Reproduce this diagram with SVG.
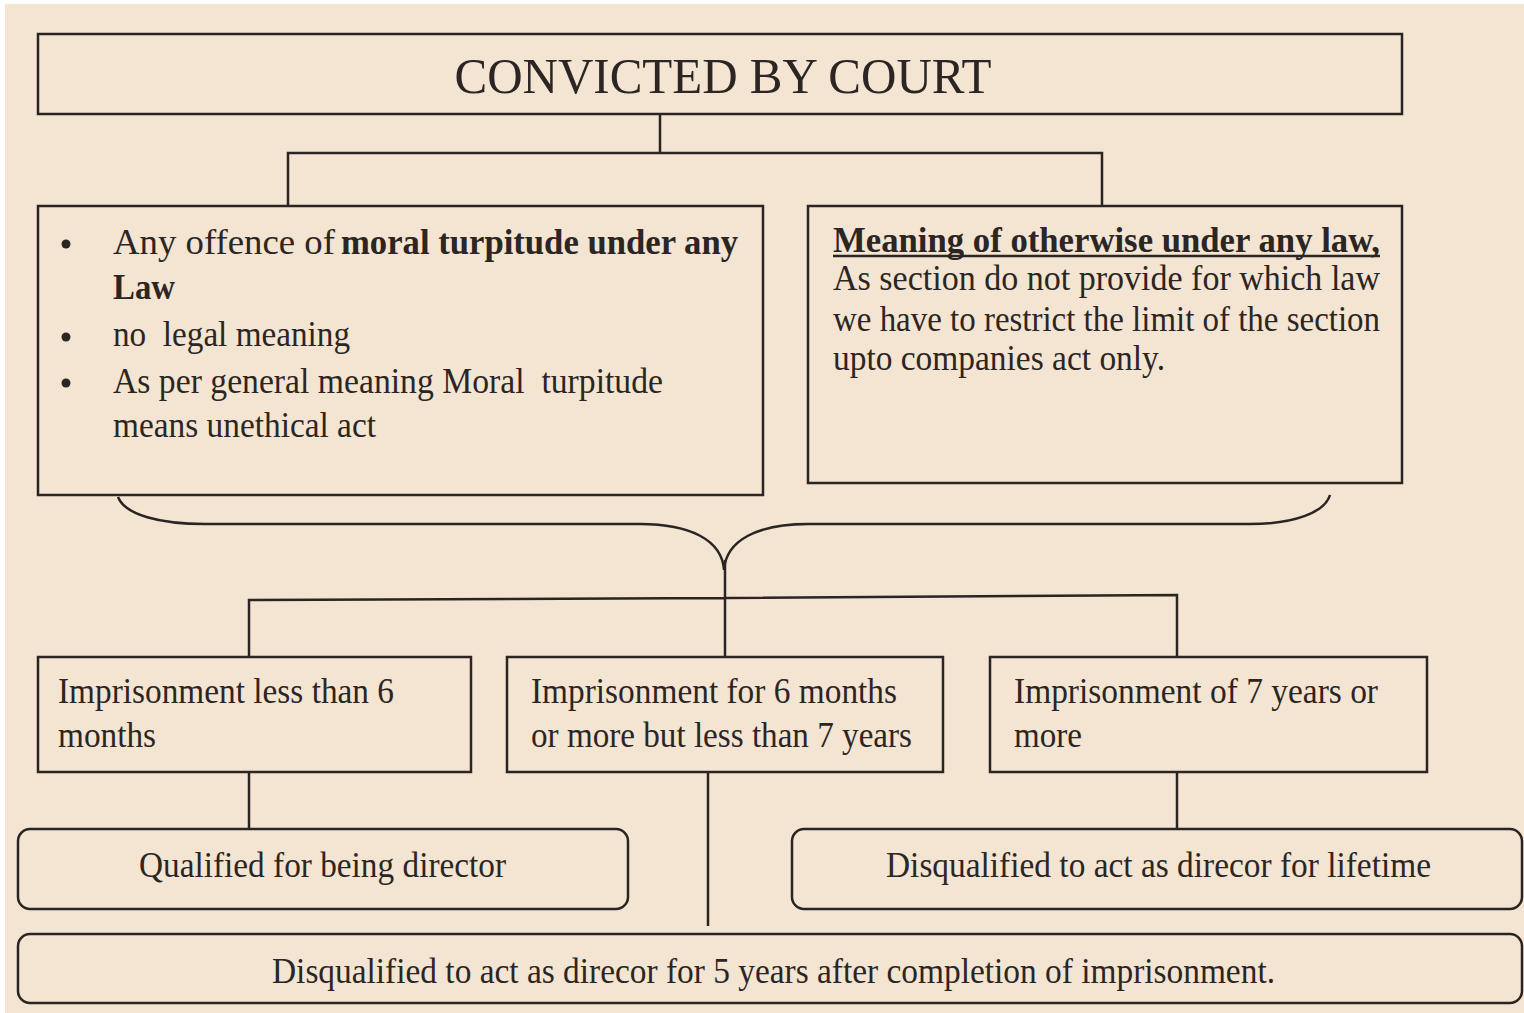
<svg xmlns="http://www.w3.org/2000/svg" width="1524" height="1013" viewBox="0 0 1524 1013">
<style>
.bx{fill:#f4e4d2;stroke:#2a2522;stroke-width:2.5}
.ln{fill:none;stroke:#2a2522;stroke-width:2.5}
text{font-family:"Liberation Serif","Times New Roman",serif;fill:#2b2623;font-size:36px}
.b{font-weight:bold}
.t{font-size:50px}
</style>
<rect x="0" y="0" width="1524" height="1013" fill="#ffffff"/>
<rect x="5" y="4" width="1519" height="1009" fill="#f4e4d2"/>
<g id="connectors">
<path class="ln" d="M660 114V153M288 206V153H1102V206"/>
<path class="ln" d="M118 497C125 515 160 524 205 524H640C690 524 722 540 724 570C726 540 758 524 808 524H1250C1295 524 1325 512 1330 495"/>
<path class="ln" d="M725 560V657M249 657V600L725 598L1177 595V657"/>
<path class="ln" d="M249 772V829M1177 772V829M708 768V926"/>
</g>
<g id="n-court">
<rect class="bx" x="38" y="34" width="1364" height="80"/>
<text class="t" x="723" y="93" text-anchor="middle" textLength="537" lengthAdjust="spacingAndGlyphs">CONVICTED BY COURT</text>
</g>
<g id="n-moral">
<rect class="bx" x="38" y="206" width="725" height="289"/>
<circle cx="66" cy="244" r="4.5" fill="#2b2623"/>
<circle cx="66" cy="337" r="4.5" fill="#2b2623"/>
<circle cx="66" cy="383" r="4.5" fill="#2b2623"/>
<text x="113" y="254" textLength="222" lengthAdjust="spacingAndGlyphs">Any offence of</text>
<text class="b" x="341" y="254" textLength="397" lengthAdjust="spacingAndGlyphs">moral turpitude under any</text>
<text class="b" x="113" y="299" textLength="62" lengthAdjust="spacingAndGlyphs">Law</text>
<text x="113" y="346" xml:space="preserve" textLength="237" lengthAdjust="spacingAndGlyphs">no  legal meaning</text>
<text x="113" y="393" xml:space="preserve" textLength="550" lengthAdjust="spacingAndGlyphs">As per general meaning Moral  turpitude</text>
<text x="113" y="437" textLength="263" lengthAdjust="spacingAndGlyphs">means unethical act</text>
</g>
<g id="n-otherwise">
<rect class="bx" x="808" y="206" width="594" height="277"/>
<text class="b" x="833" y="252" textLength="547" lengthAdjust="spacingAndGlyphs">Meaning of otherwise under any law,</text>
<line x1="833" y1="256" x2="1380" y2="256" stroke="#2b2623" stroke-width="2.5"/>
<text x="833" y="290" textLength="547" lengthAdjust="spacingAndGlyphs">As section do not provide for which law</text>
<text x="833" y="331" textLength="547" lengthAdjust="spacingAndGlyphs">we have to restrict the limit of the section</text>
<text x="833" y="370" textLength="332" lengthAdjust="spacingAndGlyphs">upto companies act only.</text>
</g>
<g id="n-less6">
<rect class="bx" x="38" y="657" width="433" height="115"/>
<text x="58" y="703" textLength="336" lengthAdjust="spacingAndGlyphs">Imprisonment less than 6</text>
<text x="58" y="747" textLength="98" lengthAdjust="spacingAndGlyphs">months</text>
</g>
<g id="n-6to7">
<rect class="bx" x="507" y="657" width="436" height="115"/>
<text x="531" y="703" textLength="366" lengthAdjust="spacingAndGlyphs">Imprisonment for 6 months</text>
<text x="531" y="747" textLength="381" lengthAdjust="spacingAndGlyphs">or more but less than 7 years</text>
</g>
<g id="n-7plus">
<rect class="bx" x="990" y="657" width="437" height="115"/>
<text x="1014" y="703" textLength="364" lengthAdjust="spacingAndGlyphs">Imprisonment of 7 years or</text>
<text x="1014" y="747" textLength="68" lengthAdjust="spacingAndGlyphs">more</text>
</g>
<g id="n-qualified">
<rect class="bx" x="18" y="829" width="610" height="80" rx="12"/>
<text x="139" y="877" textLength="367" lengthAdjust="spacingAndGlyphs">Qualified for being director</text>
</g>
<g id="n-lifetime">
<rect class="bx" x="792" y="829" width="730" height="80" rx="12"/>
<text x="886" y="877" textLength="545" lengthAdjust="spacingAndGlyphs">Disqualified to act as direcor for lifetime</text>
</g>
<g id="n-5years">
<rect class="bx" x="18" y="934" width="1504" height="69" rx="12"/>
<text x="272" y="983" textLength="1003" lengthAdjust="spacingAndGlyphs">Disqualified to act as direcor for 5 years after completion of imprisonment.</text>
</g>
</svg>
